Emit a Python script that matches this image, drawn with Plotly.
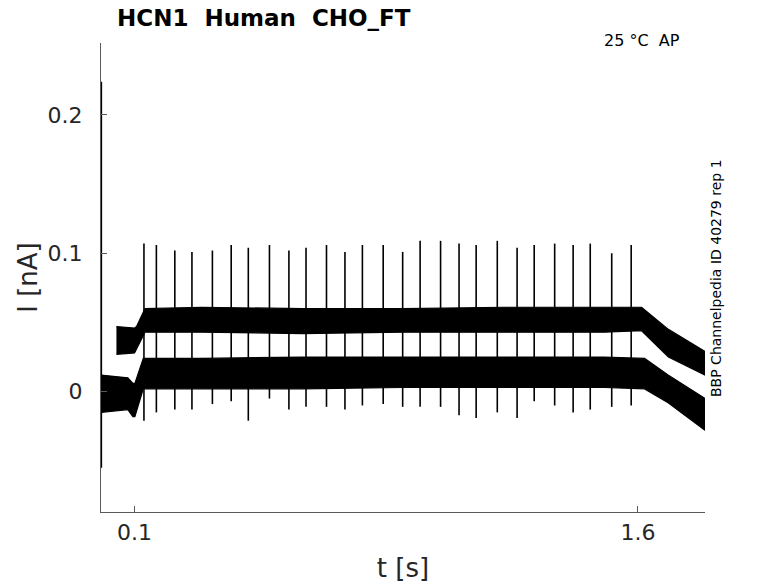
import plotly.graph_objects as go

# ---- data ----
# upper sweep band (envelope of noisy trace), time in s, current in nA
band_a_t = [0.046, 0.100, 0.106, 0.131, 0.30, 0.60, 0.90, 1.20, 1.50, 1.611, 1.691, 1.80]
band_a_hi = [0.047, 0.046, 0.047, 0.060, 0.061, 0.060, 0.060, 0.061, 0.061, 0.061, 0.045, 0.029]
band_a_lo = [0.027, 0.028, 0.030, 0.043, 0.043, 0.042, 0.043, 0.043, 0.043, 0.044, 0.025, 0.012]

# lower sweep band
band_b_t = [0.000, 0.080, 0.095, 0.101, 0.126, 0.30, 0.60, 0.90, 1.20, 1.50, 1.620, 1.690, 1.80]
band_b_hi = [0.012, 0.010, 0.006, 0.006, 0.024, 0.024, 0.025, 0.025, 0.025, 0.025, 0.024, 0.012, -0.005]
band_b_lo = [-0.015, -0.013, -0.018, -0.018, 0.002, 0.002, 0.002, 0.003, 0.003, 0.003, 0.002, -0.008, -0.028]

# transient spikes: time, top and bottom of each vertical spike
spike_t = [0.001, 0.128, 0.165, 0.220, 0.271, 0.332, 0.388, 0.439, 0.502, 0.560, 0.611,
           0.672, 0.727, 0.779, 0.841, 0.899, 0.951, 1.012, 1.067, 1.118, 1.181,
           1.240, 1.291, 1.352, 1.407, 1.458, 1.522, 1.580]
spike_top = [0.224, 0.107, 0.106, 0.102, 0.101, 0.102, 0.106, 0.104, 0.106, 0.102, 0.104,
             0.106, 0.101, 0.106, 0.106, 0.101, 0.109, 0.109, 0.107, 0.106, 0.109,
             0.104, 0.106, 0.107, 0.106, 0.107, 0.100, 0.106]
spike_bottom = [-0.055, -0.021, -0.015, -0.013, -0.013, -0.009, -0.007, -0.021, -0.005, -0.013, -0.011,
                -0.011, -0.013, -0.010, -0.009, -0.011, -0.011, -0.011, -0.017, -0.019, -0.015,
                -0.019, -0.007, -0.010, -0.015, -0.013, -0.011, -0.010]

x_ticks = [0.1, 1.6]
x_tick_labels = ["0.1", "1.6"]
y_ticks = [0.0, 0.1, 0.2]
y_tick_labels = ["0", "0.1", "0.2"]

fig = go.Figure()

for t, hi, lo in [(band_b_t, band_b_hi, band_b_lo), (band_a_t, band_a_hi, band_a_lo)]:
    fig.add_trace(go.Scatter(
        x=list(t) + list(t)[::-1],
        y=list(hi) + list(lo)[::-1],
        mode="lines", fill="toself", fillcolor="black",
        line=dict(color="black", width=1.2),
        hoverinfo="skip", showlegend=False))

sx, sy = [], []
for t, top, bot in zip(spike_t, spike_top, spike_bottom):
    sx += [t, t, None]
    sy += [bot, top, None]
fig.add_trace(go.Scatter(x=sx, y=sy, mode="lines",
                         line=dict(color="black", width=1.6),
                         hoverinfo="skip", showlegend=False))

axis_color = "#5a5a5a"
text_color = "#262626"
fig.update_layout(
    width=778, height=583,
    margin=dict(l=101, r=73, t=43, b=71),
    paper_bgcolor="white", plot_bgcolor="white",
    font=dict(family="DejaVu Sans", color=text_color),
    xaxis=dict(range=[0, 1.8], showgrid=False, zeroline=False, automargin=False,
               showline=True, linecolor=axis_color, linewidth=1,
               ticks="inside", ticklen=6, tickcolor=axis_color,
               tickvals=x_ticks, ticktext=x_tick_labels,
               tickfont=dict(size=22, color=text_color), ticklabelstandoff=1,
               title=dict(text="t [s]", font=dict(size=26, color=text_color), standoff=14)),
    yaxis=dict(range=[-0.087, 0.252], showgrid=False, zeroline=False, automargin=False,
               showline=True, linecolor=axis_color, linewidth=1,
               ticks="inside", ticklen=6, tickcolor=axis_color,
               tickvals=y_ticks, ticktext=y_tick_labels,
               tickfont=dict(size=22, color=text_color), ticklabelstandoff=13,
               title=dict(text="I [nA]", font=dict(size=26, color=text_color), standoff=2)),
)

fig.add_annotation(text="<b>HCN1  Human  CHO_FT</b>", xref="paper", yref="paper",
                   x=(115 - 101) / 604, y=1 + (43 - 18) / 469, xanchor="left", yanchor="middle",
                   showarrow=False, font=dict(size=23, color="black", family="DejaVu Sans"))
fig.add_annotation(text="25 °C  AP", xref="paper", yref="paper",
                   x=(682 - 101) / 604, y=1 - (41 - 43) / 469, xanchor="right", yanchor="middle",
                   showarrow=False, font=dict(size=16, color="black", family="DejaVu Sans"))
fig.add_annotation(text="BBP Channelpedia ID 40279 rep 1", xref="paper", yref="paper",
                   x=(716 - 101) / 604, y=1 - (278 - 43) / 469, xanchor="center", yanchor="middle",
                   textangle=-90, showarrow=False,
                   font=dict(size=14, color="black", family="DejaVu Sans"))

fig.write_html("out.html", config={"displayModeBar": False},
               post_script="document.body.style.margin='0';")
